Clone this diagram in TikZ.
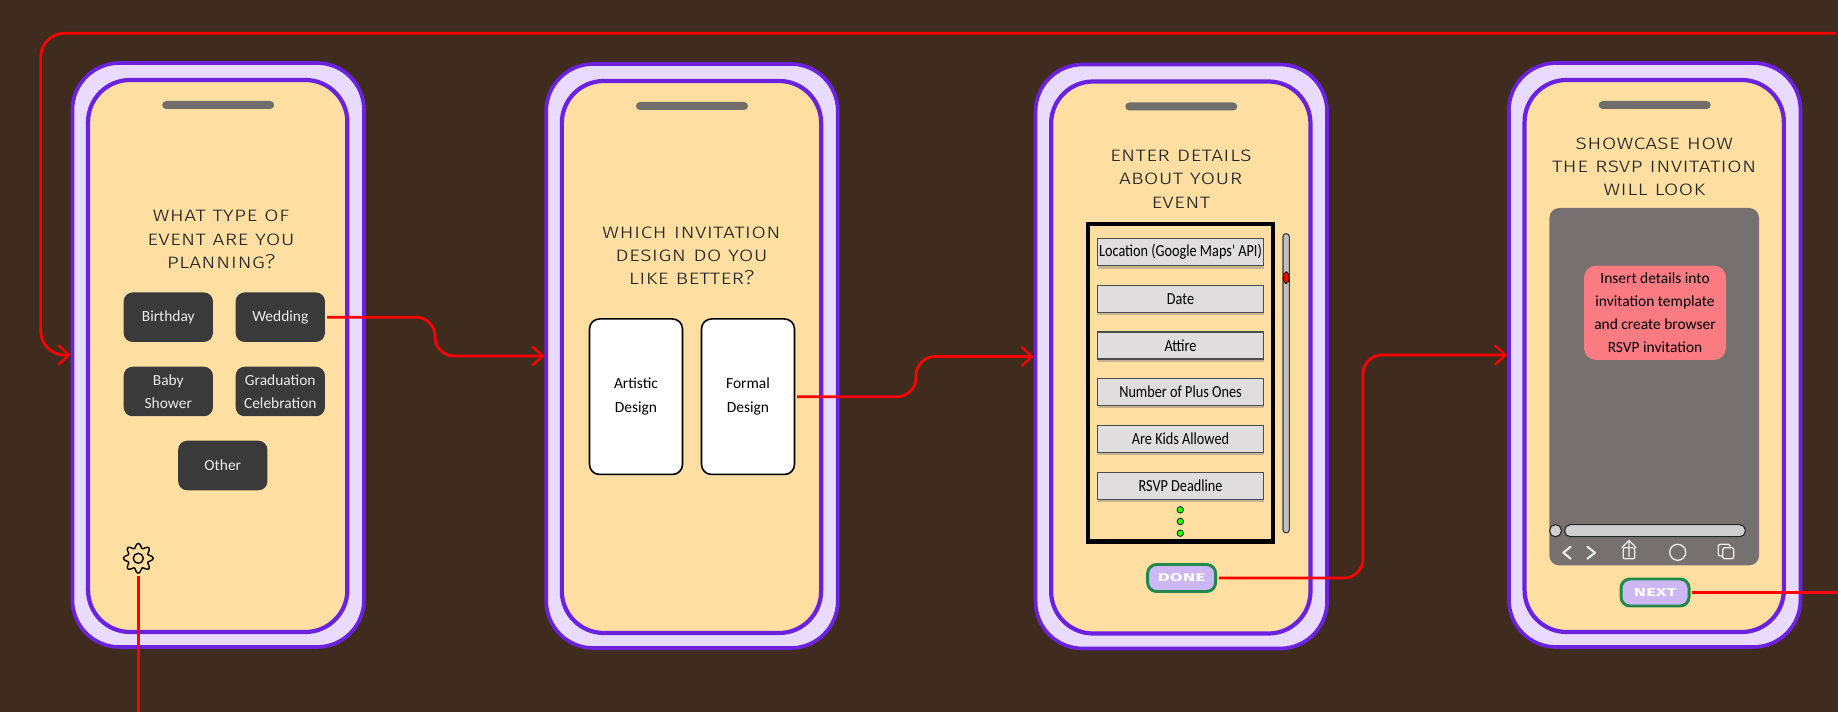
\documentclass[tikz,border=0pt]{standalone}
\usepackage{fontspec}
\usepackage{xcolor}
\usetikzlibrary{
  positioning,
  shadows,
  arrows.meta
}
\setmainfont{Carlito}
\newfontfamily\headfont[FakeStretch=1.18,Letters=SmallCaps,RawFeature=+c2sc]{Fira Sans Light}
\newfontfamily\btnfont[FakeStretch=1.5,Letters=SmallCaps,RawFeature=+c2sc]{Fira Sans SemiBold}
\newfontfamily\fieldfont[FakeStretch=0.845]{Carlito}
\definecolor{backbrown}{HTML}{3F2C1F}
\definecolor{framelilac}{HTML}{E9DAFF}
\definecolor{framepurple}{HTML}{6B22DE}
\definecolor{screensand}{HTML}{FEDFA1}
\definecolor{speakergrey}{HTML}{716D6B}
\definecolor{choicedark}{HTML}{3A3A3A}
\definecolor{fieldgrey}{HTML}{DFDDDD}
\definecolor{panelgrey}{HTML}{767070}
\definecolor{notepink}{HTML}{FA7B82}
\definecolor{btnlilac}{HTML}{CDB8F5}
\definecolor{btngreen}{HTML}{1F8A4C}
\newcommand{\pxu}{0.02cm}
\tikzset{
  phoneframe/.style={draw=framepurple,fill=framelilac,line width=2.1pt,rounded corners=47*\pxu,minimum width=291.5*\pxu,minimum height=584*\pxu},
  phonescreen/.style={draw=framepurple,fill=screensand,line width=2.4pt,rounded corners=42*\pxu,minimum width=259.3*\pxu,minimum height=552*\pxu},
  speaker/.style={fill=speakergrey,rounded corners=4*\pxu,minimum width=112*\pxu,minimum height=8*\pxu,inner sep=0pt},
  headtext/.style={align=center,inner sep=0pt,font=\headfont\fontsize{11.5}{13.25}\selectfont,text=black!85},
  choicebox/.style={fill=choicedark,rounded corners=9*\pxu,minimum width=89.3*\pxu,minimum height=49.5*\pxu,inner sep=0pt,align=center,text=white!92!black,font=\fontsize{8.8}{13.2}\selectfont},
  cardbox/.style={draw=black,fill=white,line width=0.9pt,rounded corners=10*\pxu,minimum width=93*\pxu,minimum height=155.5*\pxu,inner sep=0pt,align=center,font=\fontsize{8.8}{13.4}\selectfont},
  fieldbox/.style={draw=black!70,fill=fieldgrey,line width=0.7pt,minimum width=166*\pxu,minimum height=27*\pxu,inner sep=0pt,font=\fieldfont\fontsize{9.6}{11}\selectfont,drop shadow={shadow xshift=0.5pt,shadow yshift=-1.6pt,opacity=0.45}},
  greendot/.style={circle,draw=black,fill=green!80!lime,line width=0.4pt,minimum size=6.5*\pxu,inner sep=0pt},
  actionbutton/.style={draw=btngreen,fill=btnlilac,line width=1.7pt,rounded corners=9*\pxu,minimum width=68*\pxu,minimum height=27*\pxu,inner sep=0pt,text=white,font=\btnfont\fontsize{7.9}{8}\selectfont},
  barpill/.style={draw=black!85,fill=black!19,line width=0.6pt,rounded corners=5.5*\pxu,minimum height=12*\pxu,inner sep=0pt},
  flowlink/.style={draw=red,line width=1.55pt,rounded corners=19*\pxu,shorten <=1pt},
  flowarrow/.style={flowlink,-{Straight Barb[length=6pt,width=11pt,line width=1.3pt]}},
  iconline/.style={draw=white!92!black,line width=0.75pt,line cap=round,line join=round},
  chevronline/.style={iconline,line width=1.2pt}
}
\begin{document}
\begin{tikzpicture}[x=\pxu,y=-\pxu]
  \useasboundingbox (0,0) rectangle (1838,712);
  \fill[backbrown] (0,0) rectangle (1838,712);

  % the four phones
  \foreach \nm/\cx/\cy in {one/218.2/355,two/692/356,three/1181.3/356.5,four/1654.7/355}{
    \node[phoneframe] (\nm) at (\cx,\cy) {};
    \node[phonescreen] (\nm screen) at (\cx-0.5,\cy+1) {};
    \node[speaker] (\nm speaker) at (\cx,\cy-250) {};
  }

  % event type
  \node[headtext] (typehead) at (221,239.5) {What type of\\event are you\\planning?};
  \node[choicebox] (birthday) at (168.3,317.2) {Birthday};
  \node[choicebox] (wedding) at (280.3,317.2) {Wedding};
  \node[choicebox] (baby) at (168.3,391.5) {Baby\\Shower};
  \node[choicebox] (graduation) at (280.3,391.5) {Graduation\\Celebration};
  \node[choicebox] (other) at (222.8,465.5) {Other};
  \node[minimum size=32*\pxu,inner sep=0pt] (gear) at (138.3,558.3) {};
  \draw[black,line width=0.8pt,shift={(138.3,558.3)}] plot[domain=0:360,samples=121,smooth,variable=\t] ({(12.6+2.2*cos(8*\t))*cos(\t)},{(12.6+2.2*cos(8*\t))*sin(\t)}) -- cycle;
  \draw[black,line width=0.8pt] (gear.center) circle (5);

  % design choice
  \node[headtext] (designhead) at (691.5,256) {Which invitation\\design do you\\like better?};
  \node[cardbox] (artistic) at (636,396.7) {Artistic\\Design};
  \node[cardbox] (formal) at (748,396.7) {Formal\\Design};

  % details form
  \node[headtext] (detailshead) at (1180.7,179.2) {Enter details\\about your\\event};
  \draw[black,line width=2.3pt] (1088,224) rectangle (1273,541.5);
  \node[fieldbox] (location) at (1180.5,252.2) {Location (Google Maps' API)};
  \node[fieldbox] (date) at (1180.5,298.7) {Date};
  \node[fieldbox] (attire) at (1180.5,345.5) {Attire};
  \node[fieldbox] (plusones) at (1180.5,392) {Number of Plus Ones};
  \node[fieldbox] (kids) at (1180.5,439) {Are Kids Allowed};
  \node[fieldbox] (deadline) at (1180.5,485.7) {RSVP Deadline};
  \foreach \dy in {509.8,521.5,533.2}{
    \node[greendot] at (1180.3,\dy) {};
  }
  \draw[black!80,fill=black!25,line width=0.6pt,rounded corners=3*\pxu] (1283,233.6) rectangle (1289.3,532.9);
  \draw[black,fill=red,line width=0.4pt] (1286.2,277.7) ellipse (2.8 and 6);
  \node[actionbutton] (done) at (1181.6,578) {DONE};

  % invitation preview
  \node[headtext] (previewhead) at (1654.3,167) {Showcase how\\the RSVP invitation\\will look};
  \node[fill=panelgrey,rounded corners=10*\pxu,minimum width=209.7*\pxu,minimum height=357.4*\pxu,inner sep=0pt] (panel) at (1654.2,386.7) {};
  \node[fill=notepink,rounded corners=12*\pxu,minimum width=142*\pxu,minimum height=94.3*\pxu,inner sep=0pt,align=center,font=\fontsize{8.8}{13.2}\selectfont] (note) at (1655,312.8) {Insert details into\\invitation template\\and create browser\\RSVP invitation};
  \node[barpill,minimum width=11.6*\pxu] (dotbar) at (1555.5,530.7) {};
  \node[barpill,minimum width=180.6*\pxu] (urlbar) at (1655,530.7) {};
  \draw[chevronline] (1570.7,546.7) -- (1563.3,552.7) -- (1570.7,558.7);
  \draw[chevronline] (1587.3,546.7) -- (1595,552.7) -- (1587.3,558.7);
  \draw[iconline,rounded corners=1*\pxu] (1623.3,547.7) rectangle (1634.7,558.7);
  \draw[iconline] (1629,556.7) -- (1629,540.5) (1622,547.5) -- (1629,540.5) -- (1636,547.5);
  \draw[iconline] (1677.7,552.3) circle (8);
  \draw[iconline,rounded corners=2*\pxu] (1718.3,544.3) rectangle (1730,556);
  \draw[iconline,fill=panelgrey,rounded corners=2*\pxu] (1722.7,547.7) rectangle (1733.7,558.7);
  \node[actionbutton] (next) at (1655,592.5) {Next};

  % flow
  \coordinate (topend) at (1838,33.2);
  \coordinate (leftturn) at (40.7,200);
  \coordinate (gearend) at (138.3,712);
  \coordinate (nextend) at (1838,592.5);
  \coordinate (bendone) at (435,337);
  \coordinate (bendtwo) at (916,377);
  \coordinate (bendthree) at (1363,460);
  \draw[flowarrow] (wedding.east) -- (wedding.east -| bendone) -- (bendone |- two.west) -- (two.west);
  \draw[flowarrow] (formal.east) -- (formal.east -| bendtwo) -- (bendtwo |- three.west) -- (three.west);
  \draw[flowarrow] (done.east) -- (done.east -| bendthree) -- (bendthree |- four.west) -- (four.west);
  \draw[flowarrow,rounded corners=24*\pxu] (topend) -- (topend -| leftturn) -- (leftturn |- one.west) -- (one.west);
  \draw[flowlink] (next.east) -- (nextend);
  \draw[flowlink] (gear.south) -- (gearend);
\end{tikzpicture}
\end{document}
